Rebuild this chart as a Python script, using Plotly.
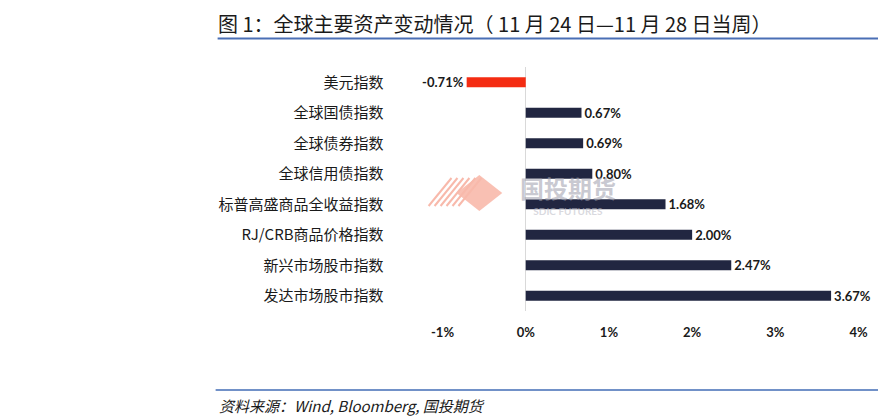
import plotly.graph_objects as go

categories = ["美元指数", "全球国债指数", "全球债券指数", "全球信用债指数",
              "标普高盛商品全收益指数", "RJ/CRB商品价格指数", "新兴市场股市指数", "发达市场股市指数"]
values = [-0.71, 0.67, 0.69, 0.80, 1.68, 2.00, 2.47, 3.67]
tick_vals = [-1, 0, 1, 2, 3, 4]
tick_text = ["-1%", "0%", "1%", "2%", "3%", "4%"]

W, H = 887, 418
# horizontal positions compensated for the observed rendering (out ~= 8.4 + 0.981 * x)
def px(x): return ((x - 8.4) / 0.981) / W
def py(y): return 1 - y / H

colors = ["#f42c12" if v < 0 else "#212641" for v in values]

fig = go.Figure()

# watermark text on the base (underlying) subplot so bars draw over it
fig.add_trace(go.Scatter(
    x=[px(567), px(567)], y=[py(192), py(212)], xaxis="x2", yaxis="y2", mode="text",
    text=["<b>国投期货</b>", "<b>SDIC FUTURES</b>"],
    textfont=dict(family=["Noto Sans CJK SC, sans-serif", "Lato, sans-serif"], size=[24, 10],
                  color=["rgba(165,165,178,0.6)", "rgba(185,185,195,0.55)"]),
    hoverinfo="skip", showlegend=False,
))

fig.add_trace(go.Bar(
    y=categories, x=values, orientation="h",
    marker=dict(color=colors, line=dict(width=0)),
    width=0.33,
    text=[f"{v:.2f}%" for v in values],
    textposition="outside",
    constraintext="none",
    textfont=dict(family="Lato, Open Sans, sans-serif", size=13, color="#1a1a1a", weight="bold"),
    cliponaxis=False,
    hoverinfo="skip",
))

fig.update_layout(
    width=W, height=H,
    autosize=False,
    margin=dict(l=0, r=0, t=0, b=0),
    plot_bgcolor="rgba(0,0,0,0)", paper_bgcolor="white",
    showlegend=False,
    xaxis2=dict(domain=[0, 1], range=[0, 1], visible=False, fixedrange=True),
    yaxis2=dict(domain=[0, 1], range=[0, 1], visible=False, fixedrange=True),
    xaxis=dict(domain=[px(441), px(859)], range=[-1, 4], tickvals=tick_vals, ticktext=tick_text,
               anchor="y", showgrid=False, zeroline=True, zerolinecolor="#d9d9d9", zerolinewidth=1,
               showline=False, ticks="", ticklabelstandoff=12,
               tickfont=dict(family="Lato, Open Sans, sans-serif", size=13, color="#1a1a1a", weight="bold")),
    yaxis=dict(domain=[py(311), py(67)], anchor="x", autorange="reversed", showgrid=False, showline=False,
               ticks="", ticklabelstandoff=58,
               tickfont=dict(family="Noto Sans CJK SC, sans-serif", size=15, color="#1a1a1a")),
)

# title and rules
fig.add_annotation(x=px(213), y=py(24), xref="paper", yref="paper", xanchor="left", yanchor="middle",
                   text="图 1：全球主要资产变动情况（ 11 月 24 日—11 月 28 日当周）", showarrow=False,
                   font=dict(family="Noto Sans CJK SC, sans-serif", size=20, color="#1a1a1a"))
fig.add_shape(type="line", xref="paper", yref="paper", x0=px(215), x1=1, y0=py(38.5), y1=py(38.5),
              line=dict(color="#4a6fb5", width=2))
fig.add_shape(type="line", xref="paper", yref="paper", x0=px(213), x1=1, y0=py(390), y1=py(390),
              line=dict(color="#7191c8", width=2))
fig.add_annotation(x=px(214), y=py(405), xref="paper", yref="paper", xanchor="left", yanchor="middle",
                   text="<i>资料来源：Wind, Bloomberg, 国投期货</i>", showarrow=False,
                   font=dict(family="Noto Sans CJK SC, sans-serif", size=15, color="#1a1a1a"))

# watermark logo
cx, cy = 478, 193
fig.add_shape(type="path", xref="paper", yref="paper",
              path=f"M {px(cx-23)} {py(cy)} L {px(cx)} {py(cy-18)} L {px(cx+23)} {py(cy)} L {px(cx)} {py(cy+18)} Z",
              fillcolor="#f8b9ab", line=dict(width=0), opacity=0.9, layer="below")
for i in range(6):
    x0 = 427 + i * 6
    fig.add_shape(type="line", xref="paper", yref="paper",
                  x0=px(x0), y0=py(cy + 13), x1=px(x0 + 23), y1=py(cy - 15),
                  line=dict(color="#f8b9ab", width=2), layer="below")

fig.write_html(
    "out.html",
    config={"displayModeBar": False},
    post_script="document.body.style.margin='0';document.body.style.overflow='hidden';",
)
